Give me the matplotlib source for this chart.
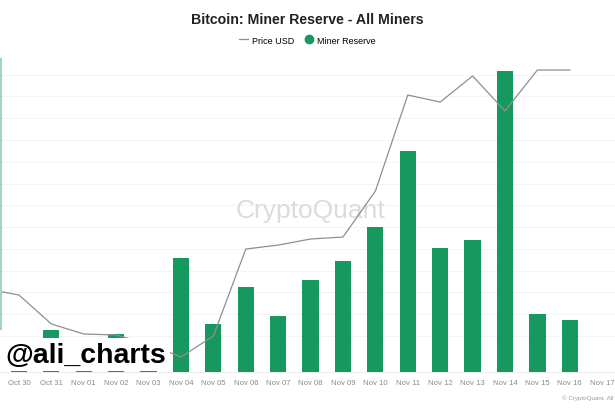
import numpy as np
import matplotlib.pyplot as plt
from matplotlib.lines import Line2D
from matplotlib.patches import Rectangle

plt.rcParams['font.family'] = ['Liberation Sans', 'DejaVu Sans']

# daily points, Oct 29 only feeds the clipped start of the price line
dates = ['Oct 29', 'Oct 30', 'Oct 31', 'Nov 01', 'Nov 02', 'Nov 03', 'Nov 04',
         'Nov 05', 'Nov 06', 'Nov 07', 'Nov 08', 'Nov 09', 'Nov 10', 'Nov 11',
         'Nov 12', 'Nov 13', 'Nov 14', 'Nov 15', 'Nov 16', 'Nov 17']
price = [73300, 72810, 70470, 69660, 69580, 68850, 67800, 69500, 76530, 76850,
         77340, 77500, 81220, 88980, 88410, 90520, 87690, 91000, 91000, np.nan]
# miner reserve, relative height above the axis floor
reserve = [np.nan, 9.0, 13.4, 10.0, 12.1, 9.0, 36.4, 15.3, 27.2, 17.9,
           29.4, 35.5, 46.3, 70.6, 39.6, 42.2, 96.2, 18.5, 16.6, np.nan]

green = '#17985f'
grey_line = '#8f8f8f'

x = np.arange(len(dates))

fig = plt.figure(figsize=(6.15, 4.1), dpi=100)
ax = fig.add_axes([0, 0.0902, 1, 0.7634])
ax.bar(x, np.nan_to_num(reserve), width=0.5, color=green, zorder=2)
ax.set_ylim(0, 100)
ax.set_yticks(np.arange(11.5, 100, 6.96))
ax.yaxis.grid(True, color='#f3f3f3', lw=0.6, zorder=0)
ax.set_axisbelow(True)
ax.tick_params(axis='y', length=0, labelleft=False)
ax.set_xticks(x[1:])
ax.set_xticklabels(dates[1:], fontsize=5.6, color='#8a8a8a')
ax.tick_params(axis='x', length=0, pad=5)
for s in ['top', 'left', 'right']:
    ax.spines[s].set_visible(False)
ax.spines['bottom'].set_color('#e6e6e6')
ax.spines['bottom'].set_linewidth(0.6)

ax2 = ax.twinx()
ax2.plot(x, price, color=grey_line, lw=0.9, zorder=3)
ax2.set_ylim(66587, 91890)
ax2.set_yticks([])
for s in ax2.spines.values():
    s.set_visible(False)
ax.set_xlim(0.414, 19.395)

# watermark
ax.text(0.505, 0.517, 'CryptoQuant', transform=ax.transAxes, ha='center', va='center',
        fontsize=19, color='#dcdcdc', zorder=1)

fig.text(0.5, 0.952, 'Bitcoin: Miner Reserve - All Miners', ha='center', va='center',
         fontsize=10.2, fontweight='bold', color='#222222')
handles = [Line2D([], [], color=grey_line, lw=0.9),
           Line2D([], [], marker='o', ls='', color=green, markersize=6)]
fig.legend(handles, ['Price USD', 'Miner Reserve'], loc='center', bbox_to_anchor=(0.5, 0.9),
           ncol=2, frameon=False, fontsize=6.5, handlelength=1.0, handletextpad=0.4,
           columnspacing=1.2)

fig.text(0.998, 0.03, '© CryptoQuant. All', ha='right', va='center', fontsize=4.5, color='#9a9a9a')

# @ali_charts box over the left bars
fig.add_artist(Rectangle((0, 0.0915), 0.277, 0.0817, transform=fig.transFigure,
                         facecolor='white', edgecolor='none', zorder=5))
fig.text(0.008, 0.131, '@ali_charts', ha='left', va='center', fontsize=20.5,
         fontweight='bold', color='black', zorder=6)
fig.add_artist(Line2D([0.002, 0.002], [1 - 60 / 410, 1 - 330 / 410], transform=fig.transFigure,
                      color='#a6d4c4', lw=1.5))

fig.savefig('out.png', dpi=100)
